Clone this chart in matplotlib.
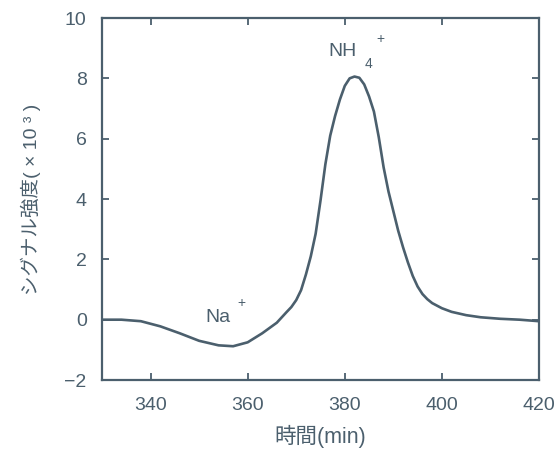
import numpy as np
import matplotlib.pyplot as plt

plt.rcParams['font.family'] = ['Liberation Sans', 'Noto Sans CJK JP', 'DejaVu Sans']

# values (time in min, signal x10^3)
time = [330, 334, 338, 342, 346, 350, 354, 357, 360, 363, 366, 368, 369, 370,
        371, 372, 373, 374, 375, 376, 377, 378, 379, 380, 381, 382, 383, 384,
        385, 386, 387, 388, 389, 390, 391, 392, 393, 394, 395, 396, 397, 398,
        400, 402, 405, 408, 412, 416, 420]
signal = [0.0, 0.0, -0.05, -0.22, -0.45, -0.70, -0.85, -0.88, -0.75, -0.45, -0.1, 0.25, 0.42, 0.65,
          0.98, 1.5, 2.1, 2.85, 3.95, 5.15, 6.1, 6.75, 7.3, 7.75, 8.0, 8.06, 8.02, 7.8,
          7.4, 6.9, 6.05, 5.05, 4.25, 3.6, 2.95, 2.4, 1.9, 1.45, 1.1, 0.85, 0.68, 0.55,
          0.38, 0.26, 0.15, 0.08, 0.03, 0.0, -0.05]
xticks = [340, 360, 380, 400, 420]
yticks = [-2, 0, 2, 4, 6, 8, 10]

ink = '#4b5f6d'

fig = plt.figure(figsize=(5.59, 4.53), dpi=100)
ax = fig.add_axes([0.1825, 0.1611, 0.7817, 0.7991])
ax.plot(time, signal, color=ink, lw=1.9, solid_joinstyle='round')

ax.set_xlim(330, 420)
ax.set_ylim(-2, 10)
ax.set_xticks(xticks)
ax.set_yticks(yticks)
ax.set_yticklabels(['\u22122', '0', '2', '4', '6', '8', '10'])
ax.tick_params(direction='in', top=True, right=True, length=5, width=1.3,
               colors=ink, labelsize=14)
ax.tick_params(axis='x', pad=12)
ax.tick_params(axis='y', pad=11)
for s in ax.spines.values():
    s.set_color(ink)
    s.set_linewidth(1.6)

ax.set_xlabel('時間(min)', color=ink, fontsize=15.5, labelpad=8)
ax.set_ylabel('シグナル強度( × 10 ³ )', color=ink, fontsize=14, labelpad=17)

# peak labels
ax.text(379.5, 8.9, 'NH', color=ink, fontsize=14, ha='center', va='center')
ax.text(384.9, 8.47, '4', color=ink, fontsize=10, ha='center', va='center')
ax.text(387.3, 9.3, '+', color=ink, fontsize=10, ha='center', va='center')
ax.text(353.8, 0.07, 'Na', color=ink, fontsize=14, ha='center', va='center')
ax.text(358.8, 0.56, '+', color=ink, fontsize=10, ha='center', va='center')

plt.savefig('out.png', dpi=100)
